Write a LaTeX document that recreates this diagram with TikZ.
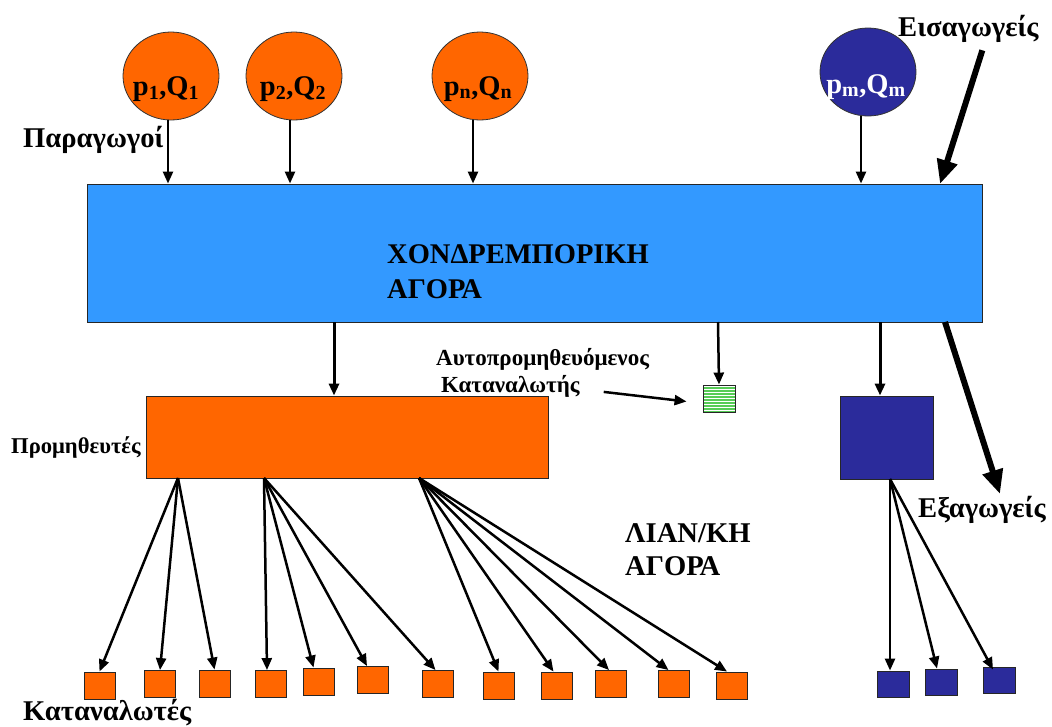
\documentclass[tikz,border=0pt]{standalone}
\usepackage{fontspec}
\setmainfont{Liberation Serif}
\usetikzlibrary{arrows.meta,calc,shapes.geometric}
\definecolor{orng}{HTML}{FF6600}
\definecolor{skyb}{HTML}{3399FF}
\definecolor{navyc}{HTML}{2B2B9B}
\definecolor{grn}{HTML}{55CC55}
\tikzset{
  arr/.style={line width=2.5pt,-{Triangle[length=12pt,width=10pt]}},
  bigarr/.style={line width=6pt,-{Triangle[length=24pt,width=20pt]}},
  prod/.style={ellipse, draw=black!80, line width=0.8pt, minimum width=96pt, minimum height=88pt, inner sep=0pt},
  boxx/.style={rectangle, draw=black!85, line width=0.9pt, inner sep=0pt},
  sq/.style={boxx, fill=orng, minimum width=31pt, minimum height=27pt},
  nsq/.style={boxx, fill=navyc, minimum width=32pt, minimum height=26pt},
  big/.style={font=\bfseries\fontsize{28.5}{34}\selectfont, inner sep=0pt},
  lbl/.style={font=\bfseries\fontsize{28.6}{34}\selectfont, inner sep=0pt, anchor=base west},
  sml/.style={font=\bfseries\fontsize{23}{27}\selectfont, inner sep=0pt, anchor=base west},
  xsml/.style={font=\bfseries\fontsize{22.6}{26}\selectfont, inner sep=0pt, anchor=base west},
}
\begin{document}
\begin{tikzpicture}[x=1pt,y=-1pt]
\path[use as bounding box, fill=white] (0,0) rectangle (1052,726);

% producers
\node[prod, fill=orng] (p1) at (171,76) {};
\node[prod, fill=orng] (p2) at (294,76) {};
\node[prod, fill=orng] (pn) at (480,76) {};
\node[prod, fill=navyc] (pm) at (868,72) {};
\node[big, anchor=base] (t1) at (166,95) {p\textsubscript{1},Q\textsubscript{1}};
\node[big, anchor=base] (t2) at (293,95) {p\textsubscript{2},Q\textsubscript{2}};
\node[big, anchor=base] (tn) at (478,95) {p\textsubscript{n},Q\textsubscript{n}};
\node[big, anchor=base, text=white] (tm) at (866,93) {p\textsubscript{m},Q\textsubscript{m}};

\node[lbl] (prodlbl) at (23,147) {Παραγωγοί};
\node[lbl] (imp) at (898,36) {Εισαγωγείς};

% wholesale market
\node[boxx, fill=skyb, minimum width=895pt, minimum height=138pt] (wh) at (534.5,253) {};
\node[big, anchor=base west] (wht1) at (387,263) {ΧΟΝΔΡΕΜΠΟΡΙΚΗ};
\node[big, anchor=base west] (wht2) at (387,298) {ΑΓΟΡΑ};

\draw[arr] ([xshift=-3pt]p1.south) -- ([xshift=-3pt]p1.south |- wh.north);
\draw[arr] ([xshift=-4pt]p2.south) -- ([xshift=-4pt]p2.south |- wh.north);
\draw[arr] ([xshift=-7pt]pn.south) -- ([xshift=-7pt]pn.south |- wh.north);
\draw[arr] ([xshift=-7pt]pm.south) -- ([xshift=-7pt]pm.south |- wh.north);

\coordinate (impEnd) at (940,184);
\draw[bigarr] ([xshift=14pt,yshift=-8pt]imp.south) -- (impEnd);

% suppliers
\node[boxx, fill=orng, minimum width=402pt, minimum height=82pt] (prom) at (347,437) {};
\node[xsml] (promlbl) at (11,453) {Προμηθευτές};

% self-supplied consumer
\node[boxx, fill=grn, minimum width=32pt, minimum height=27pt,
  path picture={\foreach \k in {-12,-9,...,12} \draw[white,line width=0.7pt] ([yshift=\k pt]path picture bounding box.west) -- ([yshift=\k pt]path picture bounding box.east);}] (self) at (719,398.5) {};
\node[sml] (selft1) at (436,365) {Αυτοπρομηθευόμενος};
\node[sml] (selft2) at (441,392) {Καταναλωτής};
\draw[arr] ([xshift=24pt,yshift=-6pt]selft2.east) -- ([xshift=-16pt,yshift=-3pt]self.west);

% exporters
\node[boxx, fill=navyc, minimum width=93pt, minimum height=83pt] (nav) at (886.5,437.5) {};
\node[lbl] (exp) at (918,517) {Εξαγωγείς};

\coordinate (wA) at (334,322);
\coordinate (wB) at (718,322);
\coordinate (wC) at (880,322);
\coordinate (wD) at (945,322);
\draw[arr, line width=3pt] (wA) -- (wA |- prom.north);
\draw[arr] (wB) -- (self.north);
\draw[arr, line width=3pt] (wC) -- (wC |- nav.north);
\coordinate (expEnd) at (1000,494);
\draw[bigarr] (wD) -- (expEnd);

% retail
\node[lbl] (r1) at (625,542) {ΛΙΑΝ/ΚΗ};
\node[lbl] (r2) at (625,575) {ΑΓΟΡΑ};

\node[sq] (c1) at (99.5,685.5) {};
\node[sq] (c2) at (160,684) {};
\node[sq] (c3) at (214.5,683.5) {};
\node[sq] (c4) at (271,684) {};
\node[sq] (c5) at (318.5,681.5) {};
\node[sq] (c6) at (373,680) {};
\node[sq] (c7) at (437.5,684) {};
\node[sq] (c8) at (498.5,685.5) {};
\node[sq] (c9) at (556.5,685.5) {};
\node[sq] (c10) at (611,684) {};
\node[sq] (c11) at (673.5,684) {};
\node[sq] (c12) at (732,685.5) {};

\coordinate (sA) at (178,478);
\coordinate (sB) at (264,478);
\coordinate (sC) at (419,478);
\draw[arr] (sA) -- (c1.north);
\draw[arr] (sA) -- (c2.north);
\draw[arr] (sA) -- (c3.north);
\draw[arr] (sB) -- ([xshift=-4pt]c4.north);
\draw[arr] (sB) -- ([xshift=-5pt]c5.north);
\draw[arr] (sB) -- ([xshift=-6pt]c6.north);
\draw[arr] (sB) -- ([xshift=-2pt]c7.north);
\draw[arr] (sC) -- (c8.north);
\draw[arr] (sC) -- ([xshift=-3pt]c9.north);
\draw[arr] (sC) -- ([xshift=-2pt]c10.north);
\draw[arr] (sC) -- ([xshift=-5pt]c11.north);
\draw[arr] (sC) -- ([xshift=-5pt]c12.north);

\node[nsq] (n1) at (893,684) {};
\node[nsq] (n2) at (941,682) {};
\node[nsq] (n3) at (999,680) {};
\coordinate (sN) at (890,479);
\draw[arr] (sN) -- ([xshift=-3pt]n1.north);
\draw[arr] (sN) -- ([xshift=-4pt]n2.north);
\draw[arr] (sN) -- ([xshift=-6pt,yshift=-3pt]n3.north);

\node[lbl] (cons) at (23,720) {Καταναλωτές};
\end{tikzpicture}
\end{document}
